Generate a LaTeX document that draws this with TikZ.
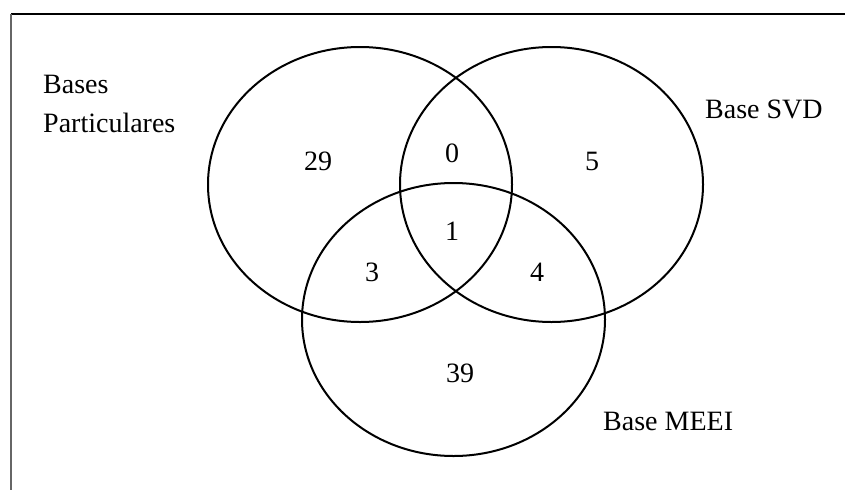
\documentclass[tikz,border=0pt]{standalone}
\usepackage{fontspec}
\setmainfont{Liberation Serif}
\begin{document}
\begin{tikzpicture}[x=1pt,y=-1pt,
  settext/.style={inner sep=0pt,font=\fontsize{28}{39}\selectfont},
  num/.style={settext,anchor=base},
  lbl/.style={settext,anchor=base west},
  setline/.style={line width=2pt,black}]
\useasboundingbox (0,0) rectangle (845,490);
% frame
\draw[line width=1.5pt,black] (11,14) -- (845,14);
\draw[line width=2pt,black!60] (11,14) -- (11,490);
% sets
\draw[setline] (360,184.5) ellipse [x radius=152pt, y radius=137.5pt];
\draw[setline] (551.5,184.5) ellipse [x radius=151.5pt, y radius=137.5pt];
\draw[setline] (453.5,319.5) ellipse [x radius=151.5pt, y radius=136.5pt];
% counts
\node[num] (n29) at (318,170) {29};
\node[num] (n0) at (452,162) {0};
\node[num] (n5) at (592,170) {5};
\node[num] (n1) at (452,240) {1};
\node[num] (n3) at (372,281) {3};
\node[num] (n4) at (537,281) {4};
\node[num] (n39) at (460,382) {39};
% labels
\node[lbl] (lp1) at (43,93) {Bases};
\node[lbl] (lp2) at (43,132) {Particulares};
\node[lbl] (lsvd) at (705,118) {Base SVD};
\node[lbl] (lmeei) at (603,430) {Base MEEI};
\end{tikzpicture}
\end{document}
